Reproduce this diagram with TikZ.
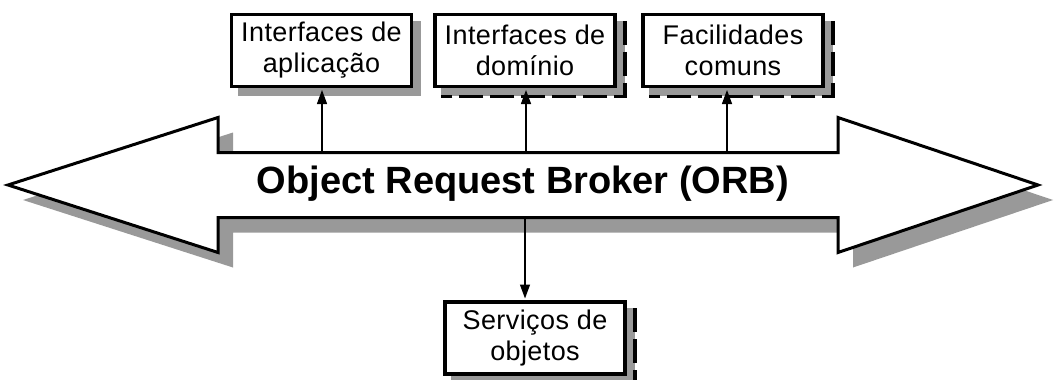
\documentclass[tikz,border=0pt]{standalone}
\usepackage{fontspec}
\setmainfont{Liberation Sans}
\usetikzlibrary{arrows.meta}
\begin{document}
\begin{tikzpicture}[x=1pt,y=-1pt,
  shade/.style={fill=black!40},
  orbline/.style={draw, line width=3pt, line join=miter, fill=white},
  box/.style={draw, line width=3.5pt, fill=white, minimum width=180pt,
    minimum height=72pt, align=center, inner sep=0pt,
    font=\fontsize{27}{31}\selectfont\addfontfeature{LetterSpace=1.5}},
  link/.style={line width=1.3pt, -{Triangle[length=14pt,width=10pt]}},
  dashedge/.style={line width=3.5pt, dash pattern=on 24pt off 7pt}
]
\useasboundingbox (0,0) rectangle (1058,380);
\clip (0,0) rectangle (1058,380);

% shadow of the double arrow
\fill[shade] (23,200) -- (233,132.5) -- (233,167.5) -- (853,167.5)
  -- (853,132.5) -- (1053,200) -- (853,267.5) -- (853,232.5)
  -- (233,232.5) -- (233,267.5) -- cycle;
% the double arrow (ORB bus)
\path[orbline] (8,185) -- (218,117.5) -- (218,152.5) -- (838,152.5)
  -- (838,117.5) -- (1038,185) -- (838,252.5) -- (838,217.5)
  -- (218,217.5) -- (218,252.5) -- cycle;
\node (orb) at (523,184) {\fontsize{38}{42}\selectfont\bfseries Object Request Broker (ORB)};

% box outlines used for placing the shadows
\path (321.5,50.5) node[box, fill=none, draw=none] (apl) {};
\path (525,50.5)   node[box, fill=none, draw=none] (dom) {};
\path (733,50.5)   node[box, fill=none, draw=none] (fac) {};
\path (535,338)    node[box, fill=none, draw=none] (srv) {};

\foreach \b in {apl,dom,fac,srv}{
  \fill[shade] ([shift={(8,8)}]\b.north west) rectangle ([shift={(8,8)}]\b.south east);
}
\foreach \b in {dom,fac,srv}{
  \draw[dashedge] ([shift={(8,8)}]\b.north east) -- ([shift={(8,8)}]\b.south east)
    -- ([shift={(8,8)}]\b.south west);
}

\node[box] at (apl) {Interfaces de\\aplicação};
\node[box] at (dom) {Interfaces de\\domínio};
\node[box] at (fac) {Facilidades\\comuns};
\node[box] at (srv) {Serviços de\\objetos};

% connectors between the bus and the boxes
\coordinate (t1) at (322,152.5);
\coordinate (t2) at (526,152.5);
\coordinate (t3) at (727,152.5);
\coordinate (b1) at (525,217.5);
\draw[link] (t1) -- ([yshift=-1.75pt]t1 |- apl.south);
\draw[link] (t2) -- ([yshift=-1.75pt]t2 |- dom.south);
\draw[link] (t3) -- ([yshift=-1.75pt]t3 |- fac.south);
\draw[link] (b1) -- ([yshift=1.75pt]b1 |- srv.north);
\end{tikzpicture}
\end{document}
